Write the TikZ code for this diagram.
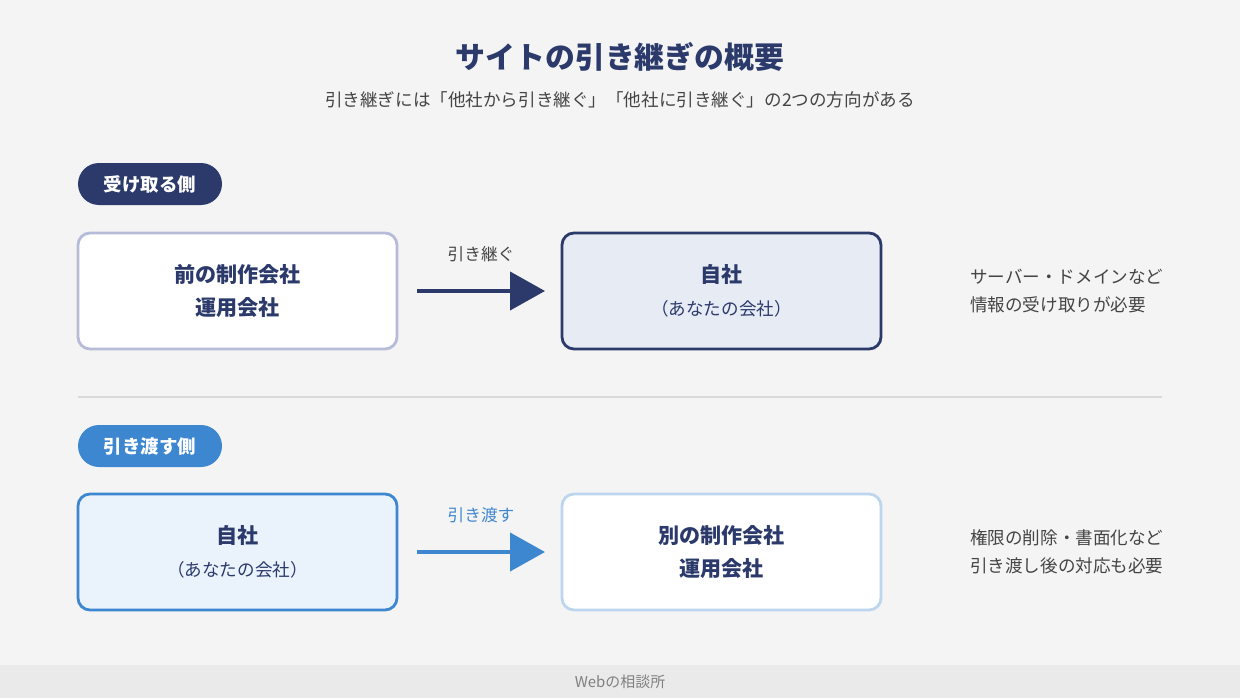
\documentclass[tikz,border=0pt]{standalone}
\usepackage{fontspec}
\setmainfont{Noto Sans CJK JP}
\usetikzlibrary{positioning,arrows.meta}
\definecolor{navy}{HTML}{2B3A6B}
\definecolor{navyline}{HTML}{B6BCD8}
\definecolor{navyfill}{HTML}{E7EBF4}
\definecolor{sky}{HTML}{3D86D0}
\definecolor{skyline}{HTML}{BDD6F0}
\definecolor{skyfill}{HTML}{EAF2FC}
\definecolor{bg}{HTML}{F4F4F4}
\definecolor{foot}{HTML}{EAEAEA}
\definecolor{txt}{HTML}{444444}
\tikzset{
  box/.style={draw, rounded corners=0.24cm, line width=1.6pt, minimum width=6.38cm,
    minimum height=2.32cm, align=center, font=\fontsize{12}{19}\selectfont\bfseries},
  pill/.style={rounded corners=0.42cm, minimum width=2.88cm, minimum height=0.84cm,
    text=white, font=\fontsize{10.5}{12}\selectfont\bfseries},
  note/.style={anchor=west, align=left, text=txt, font=\fontsize{10}{16}\selectfont},
  flow/.style={line width=2.4pt, -{Triangle[length=0.7cm,width=0.76cm]}}
}
\begin{document}
\begin{tikzpicture}
\fill[bg] (0,0) rectangle (24.8,13.96);
\fill[foot] (0,0) rectangle (24.8,0.66);
\node[text=gray, font=\fontsize{8.5}{10}\selectfont] (foot) at (12.4,0.32) {Webの相談所};
% title
\node[text=navy, font=\fontsize{17}{20}\selectfont\bfseries] (title) at (12.4,12.82) {サイトの引き継ぎの概要};
\node[text=txt, font=\fontsize{10}{12}\selectfont] (sub) at (12.4,11.96) {引き継ぎには「他社から引き継ぐ」「他社に引き継ぐ」の2つの方向がある};
% receiving side
\node[pill, fill=navy] (recv) at (3,10.28) {受け取る側};
\node[box, draw=navyline, fill=white, text=navy] (prev) at (4.75,8.14) {前の制作会社\\運用会社};
\node[box, draw=navy, fill=navyfill, text=navy] (own1) at (14.43,8.14) {自社\\{\mdseries\fontsize{10}{16}\selectfont （あなたの会社）}};
\coordinate (a1) at (8.34,8.14);
\coordinate (b1) at (10.9,8.14);
\draw[flow, navy] (a1) -- (b1) node[midway, above=0.42cm, text=txt, font=\fontsize{9.5}{11}\selectfont] {引き継ぐ};
\node[note] (n1) at (19.28,8.14) {サーバー・ドメインなど\\情報の受け取りが必要};
% divider
\draw[line width=0.8pt, black!15] (1.56,6.02) -- (23.24,6.02);
% handing side
\node[pill, fill=sky] (give) at (3,5.04) {引き渡す側};
\node[box, draw=sky, fill=skyfill, text=navy] (own2) at (4.75,2.92) {自社\\{\mdseries\fontsize{10}{16}\selectfont （あなたの会社）}};
\node[box, draw=skyline, fill=white, text=navy] (next) at (14.43,2.92) {別の制作会社\\運用会社};
\coordinate (a2) at (8.34,2.92);
\coordinate (b2) at (10.9,2.92);
\draw[flow, sky] (a2) -- (b2) node[midway, above=0.42cm, text=sky, font=\fontsize{9.5}{11}\selectfont] {引き渡す};
\node[note] (n2) at (19.28,2.92) {権限の削除・書面化など\\引き渡し後の対応も必要};
\end{tikzpicture}
\end{document}
